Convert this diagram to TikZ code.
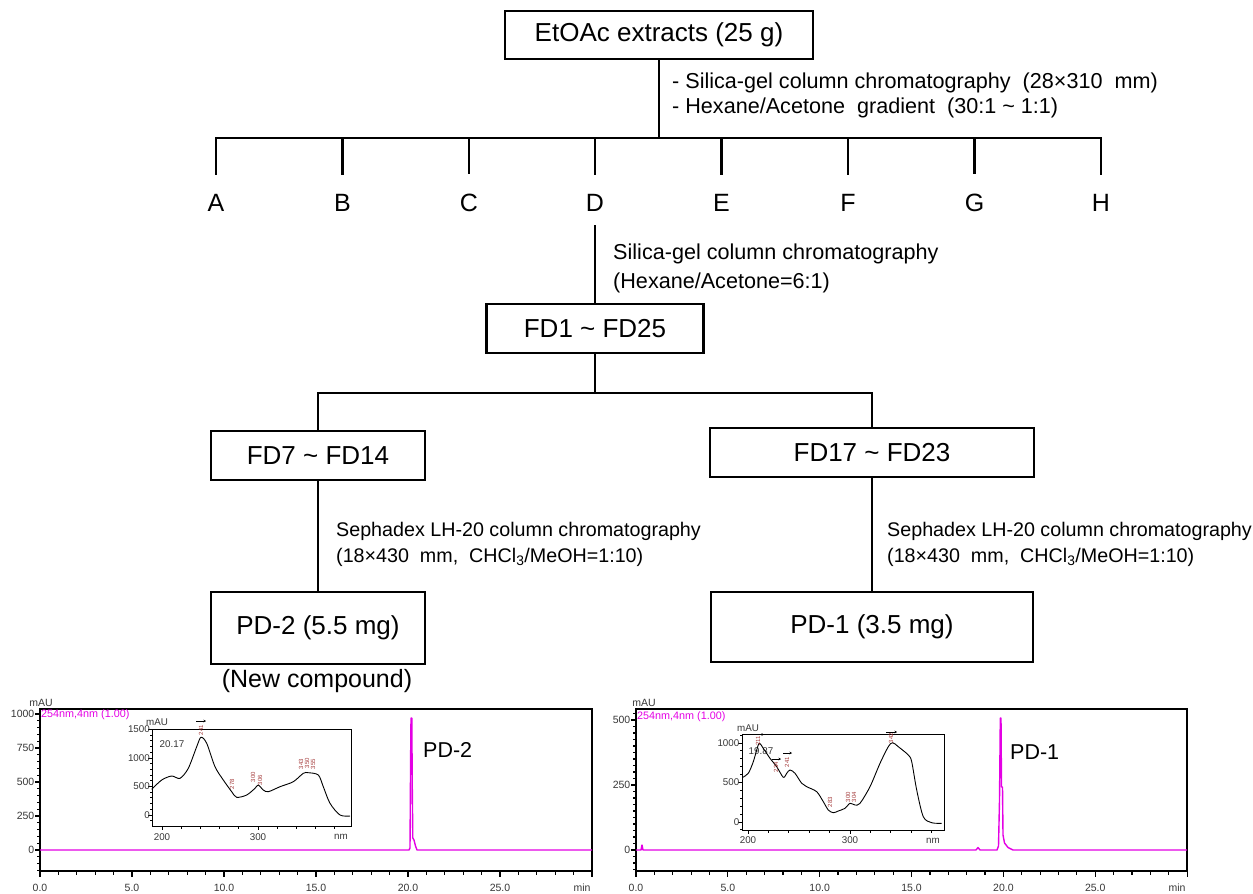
\documentclass[tikz,border=0pt]{standalone}
\usepackage{fontspec}
\setmainfont{Liberation Sans}
\usetikzlibrary{arrows.meta}
\definecolor{mag}{RGB}{228,0,228}
\definecolor{pklab}{RGB}{165,60,60}
\definecolor{lab}{RGB}{55,55,55}
\newcommand{\fsz}[1]{\fontsize{#1}{#1}\selectfont}
\begin{document}
\begin{tikzpicture}[x=1pt,y=-1pt,
  box/.style={draw,line width=2.6pt,inner sep=0pt,font=\fsz{26}},
  conn/.style={line width=2.6pt},
  ann/.style={anchor=base west,inner sep=0pt,font=\fsz{21.6}},
  sep/.style={anchor=base west,inner sep=0pt,font=\fsz{19.7}},
  let/.style={anchor=base,inner sep=0pt,font=\fsz{25}},
  ax/.style={line width=1.2pt,black},
  axin/.style={line width=0.9pt,black},
  tl/.style={inner sep=0pt,font=\fsz{10.5},text=lab},
  til/.style={inner sep=0pt,font=\fsz{9.8},text=lab},
  trace/.style={mag,line width=1.4pt,line join=round},
  spec/.style={black,line width=0.9pt},
  pk/.style={inner sep=0pt,font=\fsz{6},text=pklab,rotate=90},
  pkar/.style={-{Stealth[length=2.5pt,width=2.5pt]},line width=0.7pt}]
\useasboundingbox (0,0) rectangle (1253,894);

% ---------------- flow chart ----------------
\node[box,minimum width=308,minimum height=48] (top) at (659,35) {EtOAc extracts (25 g)};
\node[ann] (t1) at (672,88) {- Silica-gel column chromatography \ (28\texttimes310 \ mm)};
\node[ann] (t2) at (672,113) {- Hexane/Acetone \ gradient \ (30:1 \textasciitilde\ 1:1)};

\foreach \n/\x in {A/216,B/342.5,C/469,D/595,E/721.5,F/848,G/974.5,H/1101}{
  \node[let] (\n) at (\x,211) {\n};
  \coordinate (t\n) at (\x,138);
}
\coordinate (j0) at (659,138);
\draw[conn] (top.south) -- (j0);
\draw[conn,line join=miter] ([yshift=19pt]A.north) -- (tA) -- (tH) -- ([yshift=19pt]H.north);
\foreach \n in {B,C,D,E,F,G}{
  \draw[conn] (t\n) -- ([yshift=19pt]\n.north);
}

\node[ann] (s1) at (613,259) {Silica-gel column chromatography};
\node[ann] (s2) at (613,288) {(Hexane/Acetone=6:1)};

\node[box,minimum width=217,minimum height=49] (fd1) at (595,328.5) {FD1 \textasciitilde\ FD25};
\draw[conn] ([yshift=-14pt]D.south) -- (fd1.north);

\coordinate (j1) at (595,393);
\coordinate (b7) at (318,393);
\coordinate (b17) at (872,393);
\node[box,minimum width=214,minimum height=49] (fd7) at (318,455.5) {FD7 \textasciitilde\ FD14};
\node[box,minimum width=324,minimum height=49] (fd17) at (872,452.5) {FD17 \textasciitilde\ FD23};
\draw[conn] (fd1.south) -- (j1);
\draw[conn,line join=miter] (fd7.north) -- (b7) -- (b17) -- (fd17.north);

\node[sep] (l1) at (336,536) {Sephadex LH-20 column chromatography};
\node[sep] (l2) at (336,562) {(18\texttimes430 \ mm, \ CHCl\textsubscript{3}/MeOH=1:10)};
\node[sep] (r1) at (887,536) {Sephadex LH-20 column chromatography};
\node[sep] (r2) at (887,562) {(18\texttimes430 \ mm, \ CHCl\textsubscript{3}/MeOH=1:10)};

\node[box,minimum width=214,minimum height=72] (pd2) at (318,628) {PD-2 (5.5 mg)};
\node[box,minimum width=322,minimum height=70] (pd1) at (872,627) {PD-1 (3.5 mg)};
\draw[conn] (fd7.south) -- (pd2.north);
\draw[conn] (fd17.south) -- (pd1.north);
\node[let] (nc) at (317,687) {(New compound)};

% ---------------- left chromatogram ----------------
\draw[ax] (40,709) rectangle (592,871);
\foreach \t in {0,...,30}{
  \pgfmathsetmacro\xx{40+18.4*\t}
  \pgfmathtruncatemacro\m{mod(\t,5)}
  \ifnum\m=0 \draw[ax] (\xx,871) -- ++(0,6); \else \draw[ax] (\xx,871) -- ++(0,3.5); \fi
}
\foreach \t/\l in {0/0.0,5/5.0,10/10.0,15/15.0,20/20.0,25/25.0}
  \node[tl] (lx\t) at ({40+18.4*\t},888) {\l};
\node[tl] (lmin) at (582,888) {min};
\foreach \v in {-150,-100,...,1000}{
  \pgfmathsetmacro\yy{850-0.136*\v}
  \pgfmathtruncatemacro\m{mod(\v,250)}
  \ifnum\m=0 \draw[ax] (40,\yy) -- ++(-5,0); \else \draw[ax] (40,\yy) -- ++(-3,0); \fi
}
\foreach \v in {0,250,500,750,1000}
  \node[tl,anchor=east] (ly\v) at (34.5,{850-0.136*\v}) {\v};
\node[tl] (lmau) at (41,703) {mAU};
\node[tl,anchor=west,text=mag,font=\fsz{10.8}] (lwl) at (41,714.5) {254nm,4nm (1.00)};
\draw[trace] (40,850) -- (409,850) -- (410,848) -- (410.6,760) -- (411,718) -- (411.8,718)
  -- (412.3,790) -- (412.8,838) -- (414,840) -- (415.5,846) -- (417,850) -- (592,850);
\node[anchor=base west,inner sep=0pt,font=\fsz{21.5}] (lpd) at (423,757) {PD-2};

% left inset
\draw[axin,fill=white] (152,729) rectangle (351,826);
\foreach \v in {-100,0,...,1500}{
  \pgfmathsetmacro\yy{815-0.057*\v}
  \pgfmathtruncatemacro\m{mod(\v,500)}
  \ifnum\m=0 \draw[axin] (152,\yy) -- ++(-4,0); \else \draw[axin] (152,\yy) -- ++(-2.2,0); \fi
}
\foreach \n in {200,220,...,380}{
  \pgfmathsetmacro\xx{162+0.96*(\n-200)}
  \pgfmathtruncatemacro\m{mod(\n,100)}
  \ifnum\m=0 \draw[axin] (\xx,826) -- ++(0,4); \else \draw[axin] (\xx,826) -- ++(0,2.5); \fi
}
\foreach \v in {0,500,1000,1500}
  \node[til,anchor=east] (iy\v) at (150,{815-0.057*\v}) {\v};
\node[til] (ix200) at (162,837) {200};
\node[til] (ix300) at (258,837) {300};
\node[til] (ixnm) at (341,837) {nm};
\node[til] (imau) at (157,722.5) {mAU};
\node[til] (irt) at (172,744.5) {20.17};
\draw[spec] plot[smooth,tension=0.5] coordinates {
 (151.7,789.3) (161.7,780) (171.7,776) (180,778.3) (188.3,768.3) (196.7,746.7)
 (201,737.3) (206.7,743.3) (215,766.7) (223.3,780) (231.7,791.7) (236.7,797.3)
 (246.7,795) (255,788.3) (258.3,785) (263.3,790) (268.3,791.7) (280,786.7)
 (293.3,781.7) (303.3,773.3) (308.3,772.7) (318.3,775) (323.3,786.7) (330,803.3)
 (340,815) (350,816)};
\draw[pkar] (196,721) -- (206,721);
\node[pk] (p1) at (201,730) {241};
\node[pk] (p2) at (232,784) {278};
\node[pk] (p3) at (253,777) {300};
\node[pk] (p4) at (260,780) {306};
\node[pk] (p5) at (301,764) {343};
\node[pk] (p6) at (307,763) {350};
\node[pk] (p7) at (313,764) {355};

% ---------------- right chromatogram ----------------
\draw[ax] (636,709) rectangle (1187,871);
\foreach \t in {0,...,30}{
  \pgfmathsetmacro\xx{636+18.37*\t}
  \pgfmathtruncatemacro\m{mod(\t,5)}
  \ifnum\m=0 \draw[ax] (\xx,871) -- ++(0,6); \else \draw[ax] (\xx,871) -- ++(0,3.5); \fi
}
\foreach \t/\l in {0/0.0,5/5.0,10/10.0,15/15.0,20/20.0,25/25.0}
  \node[tl] (rx\t) at ({636+18.37*\t},888) {\l};
\node[tl] (rmin) at (1177,888) {min};
\foreach \v in {-75,-50,...,525}{
  \pgfmathsetmacro\yy{850-0.26*\v}
  \pgfmathtruncatemacro\m{mod(\v,250)}
  \ifnum\m=0 \draw[ax] (636,\yy) -- ++(-5,0); \else \draw[ax] (636,\yy) -- ++(-3,0); \fi
}
\foreach \v in {0,250,500}
  \node[tl,anchor=east] (ry\v) at (630.5,{850-0.26*\v}) {\v};
\node[tl] (rmau) at (644,703) {mAU};
\node[tl,anchor=west,text=mag,font=\fsz{10.8}] (rwl) at (637,716.5) {254nm,4nm (1.00)};
\draw[trace] (636,850) -- (641,850) -- (642,845) -- (643,850) -- (976,850) -- (978,847.5) -- (980,850)
  -- (997,850) -- (998.5,846) -- (999.5,800) -- (1000.3,718) -- (1001,718) -- (1001.5,787)
  -- (1002.5,787) -- (1003,835) -- (1004.5,843) -- (1008,847.5) -- (1013,850) -- (1187,850);
\node[anchor=base west,inner sep=0pt,font=\fsz{21.5}] (rpd) at (1010,759) {PD-1};

% right inset
\draw[axin,fill=white] (742,734) rectangle (944,830);
\foreach \v in {-100,0,...,1100}{
  \pgfmathsetmacro\yy{822-0.079*\v}
  \pgfmathtruncatemacro\m{mod(\v,500)}
  \ifnum\m=0 \draw[axin] (742,\yy) -- ++(-4,0); \else \draw[axin] (742,\yy) -- ++(-2.2,0); \fi
}
\foreach \n in {200,220,...,380}{
  \pgfmathsetmacro\xx{748+1.02*(\n-200)}
  \pgfmathtruncatemacro\m{mod(\n,100)}
  \ifnum\m=0 \draw[axin] (\xx,830) -- ++(0,4); \else \draw[axin] (\xx,830) -- ++(0,2.5); \fi
}
\foreach \v in {0,500,1000}
  \node[til,anchor=east] (jy\v) at (739.5,{822-0.079*\v}) {\v};
\node[til] (jx200) at (748,840.5) {200};
\node[til] (jx300) at (850,840.5) {300};
\node[til] (jxnm) at (933,840.5) {nm};
\node[til] (jmau) at (748,728) {mAU};
\node[til] (jrt) at (761,751) {19.87};
\draw[spec] plot[smooth,tension=0.5] coordinates {
 (742.7,777.3) (748.3,773.3) (753.3,761.7) (756.7,750) (759.3,743.3) (763.3,748.3)
 (770,758.3) (776.7,766.7) (783.3,777.3) (786.7,773.3) (790,770) (795,773.3)
 (801.7,783.3) (806.7,786.7) (816.7,791.7) (823.3,801.7) (828.3,810) (833.3,812.7)
 (838.3,811) (845,808.3) (850,803.3) (855,805) (860,803.3) (870,786.7) (880,763.3)
 (888.3,746.7) (892.7,742.7) (898.3,746.7) (908.3,755) (911.7,761.7) (916.7,790)
 (923.3,816.7) (931.7,822.7) (941.7,823.3)};
\draw[pkar] (753,734.5) -- (764,734.5);
\node[pk] (q1) at (758,741) {211};
\draw[pkar] (772,759) -- (781,759);
\draw[pkar] (783,753) -- (792,753);
\node[pk] (q2) at (776,767) {234};
\node[pk] (q3) at (787,762) {241};
\node[pk] (q4) at (830,802) {283};
\node[pk] (q5) at (848,797) {300};
\node[pk] (q6) at (854,797) {304};
\draw[pkar] (886,732) -- (897,732);
\node[pk] (q7) at (891,738) {342};
\end{tikzpicture}
\end{document}
